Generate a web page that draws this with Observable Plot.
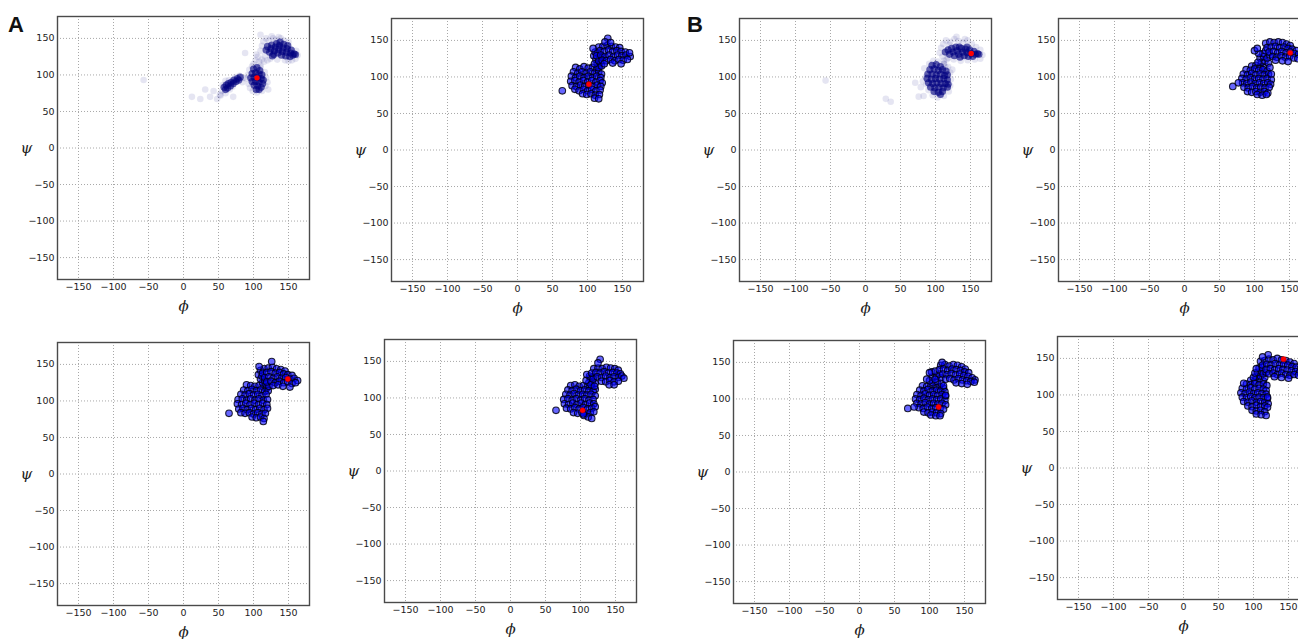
<!DOCTYPE html>
<html><head><meta charset="utf-8">
<script src="https://cdn.jsdelivr.net/npm/d3@7"></script>
<script src="https://cdn.jsdelivr.net/npm/@observablehq/plot@0.6"></script>
<style>
html,body{margin:0;padding:0;background:#fff;overflow:hidden;width:1298px;height:639px;position:relative;}
.p{position:absolute;width:312px;height:318px;}
.p svg{max-width:none !important;width:312px;height:318px;}
.lab{position:absolute;font-family:"Liberation Sans",Arial,sans-serif;font-weight:bold;font-size:22px;line-height:22px;color:#111;}
</style></head><body>
<div class="lab" style="left:8px;top:14px">A</div>
<div class="lab" style="left:687px;top:14px">B</div>
<script>
// ---------- data ----------
const xTicks = [-150, -100, -50, 0, 50, 100, 150];
const yTicks = [-150, -100, -50, 0, 50, 100, 150];
const xLabel = "ϕ";
const yLabel = "ψ";

// Panel A, top-left (sparse trajectory, low alpha): dense core and faint halo samples
const a1Core = [[118,134],[120,139],[123,131],[125,136],[126,141],[129,128],[130,133],[131,138],[133,143],[135,130],[136,135],[137,140],[140,127],[141,132],[142,137],[143,142],[146,126],[147,131],[148,136],[149,140],[152,125],[153,130],[154,134],[156,127],[158,129],[160,128],[127,126],[138,145],
 [100,108],[105,110],[109,106],[98,102],[103,103],[108,101],[112,100],[96,96],[101,97],[106,96],[111,95],[114,93],[98,91],[103,91],[108,90],[113,88],[101,86],[106,85],[111,83],[108,80],[104,80],
 [58,83],[61,86],[63,82],[64,88],[67,85],[68,90],[71,88],[72,93],[75,91],[77,95],[79,93],[60,80],[81,97]];
const a1Halo = [[112,140],[114,146],[116,126],[118,150],[122,147],[124,122],[128,150],[132,148],[134,121],[139,150],[144,147],[150,145],[155,120],[161,133],[163,127],[160,122],[110,133],[110,155],[120,120],[126,153],[136,152],[145,120],[150,119],
 [100,115],[103,120],[106,125],[108,118],[110,113],[104,128],[112,121],[98,112],[115,118],
 [92,100],[93,88],[95,82],[99,78],[105,76],[112,78],[117,85],[118,96],[116,104],[94,107],[110,110],[121,80],[120,90],[89,95],
 [55,78],[56,86],[60,92],[66,80],[70,84],[74,97],[80,99],[84,90],[65,93],[53,72],[86,96],
 [48,67],[52,73],[24,67],[12,70],[31,80],[43,78],[38,70],[71,70],[88,130],[-57,93],[60,75]];
const a1Red = [[105,96]];

// Panel A, top-right
const a2Pts = [[83,113],[89,111],[95,114],[101,112],[107,113],[113,111],[117,114],
 [80,107],[86,105],[92,107],[98,105],[104,107],[110,105],[116,107],[120,104],
 [77,101],[83,99],[89,101],[95,99],[101,101],[107,99],[113,101],[119,99],
 [76,94],[82,95],[88,93],[94,95],[100,93],[106,95],[112,93],[118,95],[121,92],
 [78,88],[84,87],[90,89],[96,87],[102,89],[108,87],[114,89],[119,87],
 [82,83],[88,81],[94,83],[100,81],[106,83],[112,81],[118,82],
 [93,77],[99,76],[105,77],[111,75],[117,76],[110,71],[116,70],
 [114,118],[118,120],[112,124],[117,126],[115,113],[120,115],[110,118],[116,122],[121,127],[109,129],[114,133],
 [116,141],[122,142],[128,143],[134,142],[140,141],[146,140],
 [111,134],[118,136],[124,135],[130,137],[136,135],[142,136],[148,135],[154,134],
 [113,129],[119,130],[125,128],[131,130],[137,128],[143,130],[149,129],[155,130],[161,128],
 [121,123],[127,122],[133,124],[139,122],[145,124],[151,123],[157,124],
 [124,118],[136,119],[148,118],
 [129,153],[125,148],[133,147],[108,139],[64,81],[160,133]];
const a2Red = [[102,90]];

// Panel A, bottom-left
const a3Pts = [[90,122],[96,121],[102,120],[108,121],[114,119],[119,118],
 [86,115],[92,114],[98,116],[104,114],[110,115],[116,113],[121,114],
 [82,109],[88,108],[94,110],[100,108],[106,109],[112,107],[118,109],
 [78,102],[84,103],[90,101],[96,103],[102,101],[108,103],[114,101],[120,102],
 [77,96],[83,95],[89,97],[95,95],[101,97],[107,95],[113,97],[119,95],
 [79,89],[85,90],[91,88],[97,90],[103,88],[109,90],[115,88],[120,90],
 [82,84],[88,83],[94,84],[100,82],[106,84],[112,82],[117,83],
 [98,78],[104,77],[110,78],[115,76],[114,72],
 [113,125],[118,123],[122,120],[110,130],[116,128],[107,136],[112,134],
 [110,142],[115,144],[121,145],[127,146],[133,144],[139,143],[145,141],
 [113,138],[119,139],[125,140],[131,138],[137,139],[143,137],[149,136],[155,135],
 [116,132],[122,133],[128,131],[134,133],[140,131],[146,132],[152,130],[158,131],[163,128],
 [119,126],[125,127],[131,125],[137,127],[143,125],[149,126],[155,124],[160,125],
 [128,121],[135,122],[142,120],[152,119],
 [126,154],[65,83],[108,147]];
const a3Red = [[149,130]];

// Panel A, bottom-right
const a4Pts = [[86,117],[92,118],[98,116],[104,117],[110,116],[116,115],[121,112],
 [82,111],[88,110],[94,112],[100,110],[106,111],[112,110],[118,109],
 [79,105],[85,104],[91,106],[97,104],[103,105],[109,104],[115,105],[121,103],
 [76,98],[82,99],[88,97],[94,99],[100,97],[106,99],[112,97],[118,98],
 [77,92],[83,91],[89,93],[95,91],[101,93],[107,91],[113,93],[119,92],
 [80,86],[86,85],[92,87],[98,85],[104,87],[110,85],[116,86],[121,88],
 [90,80],[96,79],[102,80],[108,79],[114,80],[119,81],
 [105,76],[111,74],[116,72],
 [117,122],[121,120],[114,127],[119,129],[112,121],[108,124],[115,118],[120,116],[113,130],[109,132],[118,126],
 [119,140],[125,141],[131,140],[137,142],[143,141],[149,140],[154,138],
 [116,134],[122,135],[128,134],[134,136],[140,134],[146,135],[152,134],[157,133],
 [124,129],[130,128],[136,130],[142,128],[148,129],[154,128],[159,130],[162,127],
 [130,123],[136,122],[142,124],[148,122],[154,123],[141,118],[148,118],
 [128,153],[125,148],[65,83],[104,78]];
const a4Red = [[103,83]];

// Panel B, top-left (sparse trajectory, low alpha)
const b1Core = [[114,134],[118,137],[120,131],[123,139],[125,134],[127,129],[129,141],[131,136],[133,131],[135,127],[137,139],[139,134],[141,129],[143,138],[145,133],[147,128],[149,137],[151,132],[153,128],[155,135],[157,131],[160,132],[162,131],[134,141],[145,141],
 [95,116],[101,117],[107,114],[92,110],[98,111],[104,109],[110,110],[115,108],[89,104],[95,104],[101,103],[107,104],[113,102],[117,103],[88,98],[94,97],[100,98],[106,97],[112,98],[117,96],[90,92],[96,91],[102,92],[108,91],[114,91],[118,90],[93,86],[99,85],[105,86],[111,85],[117,86],[98,80],[104,79],[110,80],[107,76]];
const b1Halo = [[106,133],[108,140],[111,145],[115,150],[121,148],[127,152],[133,149],[139,147],[146,150],[152,145],[158,141],[164,137],[167,130],[164,125],[156,124],[146,123],[136,122],[126,124],[118,126],[110,128],[120,144],[130,155],[112,122],[142,152],
 [84,112],[86,100],[87,90],[90,82],[96,75],[103,72],[112,74],[119,80],[121,88],[122,97],[121,106],[118,114],[112,118],[103,121],[97,122],[91,118],[82,94],[124,110],[79,86],
 [112,118],[116,124],[114,114],
 [29,70],[36,66],[71,92],[76,73],[83,74],[-57,95]];
const b1Red = [[151,132]];

// Panel B, top-right
const b2Pts = [[96,115],[102,116],[108,114],[113,113],
 [88,110],[94,109],[100,111],[106,109],[112,110],[118,108],
 [84,104],[90,103],[96,105],[102,103],[108,104],[114,103],[120,104],
 [82,98],[88,97],[94,99],[100,97],[106,98],[112,97],[118,98],[124,96],
 [83,92],[89,91],[95,93],[101,91],[107,92],[113,91],[119,92],[123,90],
 [85,86],[91,85],[97,87],[103,85],[109,86],[115,85],[121,86],
 [90,80],[96,79],[102,80],[108,79],[114,80],[119,78],[104,76],[111,75],[117,76],
 [110,120],[115,122],[120,119],[108,126],[113,128],[118,126],[112,132],[105,120],[122,113],[106,132],[116,136],[122,130],
 [116,146],[122,148],[128,147],[134,148],[140,147],[146,145],[151,143],
 [118,140],[124,141],[130,142],[136,140],[142,141],[148,139],[154,138],[160,136],
 [121,134],[127,135],[133,133],[139,135],[145,133],[151,134],[157,132],[163,131],[168,128],
 [126,128],[132,127],[138,129],[144,127],[150,128],[156,126],[162,125],[168,124],[173,123],
 [130,123],[140,122],[148,121],
 [100,136],[69,87],[77,92],[124,104],[104,139]];
const b2Red = [[151,133]];

// Panel B, bottom-left
const b3Pts = [[90,118],[96,117],[102,118],[108,116],[114,117],[120,115],
 [86,112],[92,111],[98,113],[104,111],[110,112],[116,111],[122,110],
 [82,106],[88,105],[94,107],[100,105],[106,106],[112,105],[118,106],[123,104],
 [80,100],[86,99],[92,101],[98,99],[104,100],[110,99],[116,100],[122,98],
 [82,94],[88,93],[94,95],[100,93],[106,94],[112,93],[118,94],[123,92],
 [85,88],[91,87],[97,89],[103,87],[109,88],[115,87],[120,86],
 [92,82],[98,81],[104,82],[110,81],[116,80],[102,78],[109,77],[115,77],
 [105,122],[111,124],[117,121],[104,130],[110,131],[116,129],[103,137],[100,125],[108,127],[114,134],[108,138],[120,118],
 [116,146],[122,147],[128,145],[134,147],[140,146],[146,144],[151,141],
 [114,140],[120,141],[126,139],[132,141],[138,140],[144,139],[150,137],[156,136],
 [119,134],[125,133],[131,135],[137,133],[143,134],[149,132],[155,131],[161,129],[165,126],
 [123,127],[129,128],[135,126],[141,128],[147,126],[153,125],[159,124],[164,123],
 [138,122],[146,121],[154,120],
 [100,136],[69,87],[78,89],[123,105],[96,127],[118,150]];
const b3Red = [[113,89]];

// Panel B, bottom-right
const b4Pts = [[96,120],[102,119],[108,121],[114,119],
 [90,115],[96,114],[102,116],[108,114],[114,115],[119,113],
 [84,109],[90,108],[96,110],[102,108],[108,109],[114,108],[118,106],
 [82,103],[88,102],[94,104],[100,102],[106,103],[112,102],[118,101],
 [84,97],[90,96],[96,98],[102,96],[108,97],[114,96],[120,95],
 [86,91],[92,90],[98,92],[104,90],[110,91],[116,90],[121,88],
 [92,85],[98,84],[104,86],[110,84],[116,85],[120,83],
 [98,79],[104,78],[110,79],[116,77],[104,74],[111,73],[118,72],
 [104,125],[110,126],[116,124],[106,131],[112,132],[108,137],[100,124],[114,129],[118,131],[102,130],[112,138],[104,136],
 [110,146],[116,147],[122,149],[128,148],[134,150],[140,148],[146,147],[152,145],[158,143],
 [113,141],[119,142],[125,141],[131,143],[137,141],[143,142],[149,141],[155,139],[161,138],[167,136],
 [118,135],[124,136],[130,134],[136,136],[142,135],[148,134],[154,133],[160,132],[166,131],[172,130],
 [122,129],[128,130],[134,128],[140,130],[146,128],[152,127],[158,128],[164,127],[170,126],
 [130,125],[140,124],[150,123],
 [121,155],[86,116],[120,97],[113,152]];
const b4Red = [[143,149]];

// ---------- drawing ----------
const ML = 50, MR = 10, MT = 10, MB = 45, FW = 252, FH = 263;

function basePlot(dotMarks) {
  return Plot.plot({
    width: ML + FW + MR, height: MT + FH + MB,
    marginLeft: ML, marginRight: MR, marginTop: MT, marginBottom: MB,
    x: {domain: [-180, 180], ticks: xTicks, tickSize: 0, tickPadding: 4, label: null},
    y: {domain: [-180, 180], ticks: yTicks, tickSize: 0, tickPadding: 3, label: null},
    style: {fontFamily: "DejaVu Sans, sans-serif", fontSize: "9.5px", color: "#222", background: "transparent", overflow: "visible"},
    marks: [
      Plot.ruleX(xTicks, {stroke: "#a8a8a8", strokeWidth: 1, strokeDasharray: "1,2"}),
      Plot.ruleY(yTicks, {stroke: "#a8a8a8", strokeWidth: 1, strokeDasharray: "1,2"}),
      ...dotMarks,
      Plot.frame({stroke: "#4a4a4a", strokeWidth: 1.4}),
      Plot.text([xLabel], {frameAnchor: "bottom", dy: 31, text: d => d, fontSize: 15, fontStyle: "italic", fontFamily: "DejaVu Serif, serif", fill: "#222"}),
      Plot.text([yLabel], {frameAnchor: "left", dx: -37, text: d => d, fontSize: 15, fontStyle: "italic", fontFamily: "DejaVu Serif, serif", fill: "#222"})
    ]
  });
}
const X = d => d[0], Y = d => d[1];
function opaquePanel(pts, red) {
  return basePlot([
    Plot.dot(pts, {x: X, y: Y, r: 3.3, fill: "#0000ff", fillOpacity: 0.6, stroke: "#000010", strokeOpacity: 0.85, strokeWidth: 1.1}),
    Plot.dot(red, {x: X, y: Y, r: 2.7, fill: "#ff0000", stroke: "#aa0000", strokeWidth: 0.4})
  ]);
}
function sparsePanel(halo, core, red) {
  return basePlot([
    Plot.dot(halo, {x: X, y: Y, r: 3.3, fill: "#000080", fillOpacity: 0.1}),
    Plot.dot(core, {x: X, y: Y, r: 3.6, fill: "#000080", fillOpacity: 0.62}),
    Plot.dot(red, {x: X, y: Y, r: 2.7, fill: "#ff0000"})
  ]);
}
function place(svg, frameLeft, frameTop) {
  const d = document.createElement("div");
  d.className = "p";
  d.style.left = (frameLeft - ML) + "px";
  d.style.top = (frameTop - MT) + "px";
  d.appendChild(svg);
  document.body.appendChild(d);
}
place(sparsePanel(a1Halo, a1Core, a1Red), 57.3, 15.7);
place(opaquePanel(a2Pts, a2Red), 391, 18.2);
place(opaquePanel(a3Pts, a3Red), 56.7, 342);
place(opaquePanel(a4Pts, a4Red), 384.3, 339.3);
place(sparsePanel(b1Halo, b1Core, b1Red), 738.5, 18.2);
place(opaquePanel(b2Pts, b2Red), 1058.3, 18.3);
place(opaquePanel(b3Pts, b3Red), 732.5, 340);
place(opaquePanel(b4Pts, b4Red), 1057.3, 335.8);
</script></body></html>
